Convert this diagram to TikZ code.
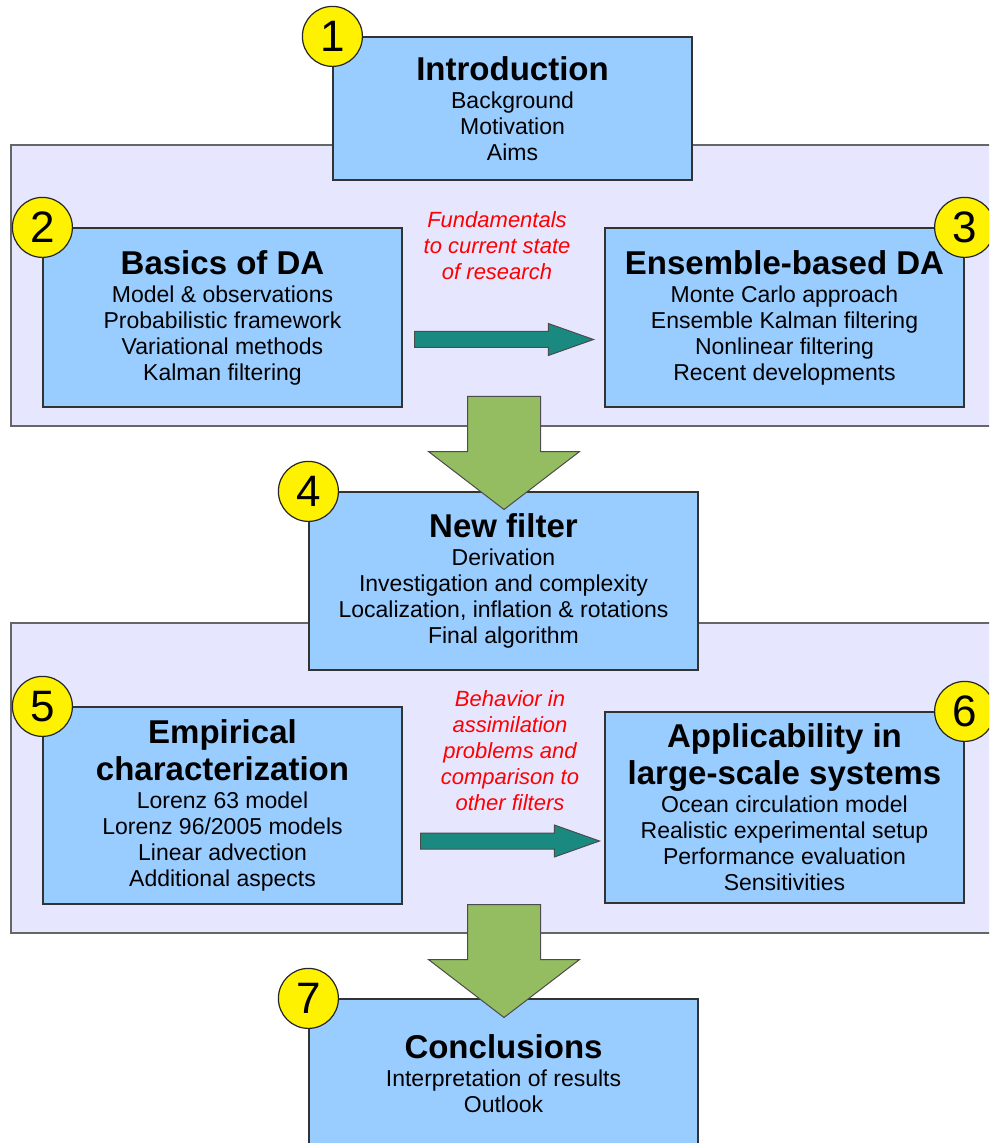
\documentclass[tikz,border=0pt]{standalone}
\usepackage{fontspec}
\setmainfont{Liberation Sans}
\usetikzlibrary{shapes.arrows}

\definecolor{boxblue}{RGB}{153,204,255}
\definecolor{panelblue}{RGB}{230,230,255}
\definecolor{leafgreen}{RGB}{148,188,96}
\definecolor{seateal}{RGB}{26,138,128}

\tikzset{
  chapter/.style={draw=black!80, fill=boxblue, line width=0.6pt, align=center,
    inner sep=0pt, font=\fontsize{11.5}{13}\selectfont},
  panelbox/.style={draw=black!60, fill=panelblue, line width=0.8pt},
  chapnum/.style={circle, draw=black!85, fill=yellow, line width=0.6pt,
    minimum size=30pt, inner sep=0pt, font=\fontsize{22}{24}\selectfont},
  note/.style={align=center, text=red, font=\fontsize{11}{13}\selectfont\itshape},
  downflow/.style={single arrow, draw=black!70, fill=leafgreen, line width=0.5pt,
    rotate=-90, anchor=tail, minimum height=56.5pt, inner xsep=0pt, inner ysep=18pt,
    single arrow head extend=19.5pt, single arrow tip angle=105},
  sideflow/.style={single arrow, draw=black!70, fill=seateal, line width=0.5pt,
    anchor=tail, minimum height=89.5pt, inner xsep=0pt, inner ysep=3.75pt,
    single arrow head extend=4pt, single arrow tip angle=39}
}
\newcommand{\ttl}[1]{{\fontsize{16.5}{18}\selectfont\bfseries #1}}

\begin{document}
\begin{tikzpicture}[x=0.5pt, y=-0.5pt]
  \useasboundingbox (0,0) rectangle (989,1143);
  \clip (0,0) rectangle (989,1143);

  % panels behind the chapters
  \draw[panelbox] (11,145) rectangle (1000,426);
  \draw[panelbox] (11,623) rectangle (1000,933);

  % chapters
  \node[chapter, minimum width=179.5pt, minimum height=71.5pt] (intro) at (512.5,108.5)
    {\ttl{Introduction}\\[1pt] Background\\Motivation\\Aims};
  \node[chapter, minimum width=179.5pt, minimum height=89.5pt] (basics) at (222.5,317.5)
    {\ttl{Basics of DA}\\[1pt] Model \& observations\\Probabilistic framework\\Variational methods\\Kalman filtering};
  \node[chapter, minimum width=179.5pt, minimum height=89.5pt] (ensda) at (784.5,317.5)
    {\ttl{Ensemble-based DA}\\[1pt] Monte Carlo approach\\Ensemble Kalman filtering\\Nonlinear filtering\\Recent developments};
  \node[chapter, minimum width=194.5pt, minimum height=89pt] (newf) at (503.5,581)
    {\ttl{New filter}\\[1pt] Derivation\\Investigation and complexity\\Localization, inflation \& rotations\\Final algorithm};
  \node[chapter, minimum width=179.5pt, minimum height=98.5pt] (empir) at (222.5,805.5)
    {\ttl{Empirical}\\[2pt]\ttl{characterization}\\[1pt] Lorenz 63 model\\Lorenz 96/2005 models\\Linear advection\\Additional aspects};
  \node[chapter, minimum width=179.5pt, minimum height=95.5pt] (applic) at (784.5,807.5)
    {\ttl{Applicability in}\\[2pt]\ttl{large-scale systems}\\[1pt] Ocean circulation model\\Realistic experimental setup\\Performance evaluation\\Sensitivities};
  \node[chapter, minimum width=194.5pt, minimum height=75pt] (concl) at (503.5,1074)
    {\ttl{Conclusions}\\[1pt] Interpretation of results\\Outlook};

  % flow arrows
  \node[sideflow] (fw1) at (414,339.5) {};
  \node[sideflow] (fw2) at (420,841) {};
  \node[downflow] (dn1) at (504,396) {};
  \node[downflow] (dn2) at (504,904) {};

  % numbers
  \node[chapnum] (n1) at (intro.north west) {1};
  \node[chapnum] (n2) at (basics.north west) {2};
  \node[chapnum] (n3) at (ensda.north east) {3};
  \node[chapnum] (n4) at (newf.north west) {4};
  \node[chapnum] (n5) at (empir.north west) {5};
  \node[chapnum] (n6) at (applic.north east) {6};
  \node[chapnum] (n7) at (concl.north west) {7};

  % red remarks
  \node[note] (rem1) at (497,246) {Fundamentals\\to current state\\of research};
  \node[note] (rem2) at (510,751) {Behavior in\\assimilation\\problems and\\comparison to\\other filters};
\end{tikzpicture}
\end{document}
